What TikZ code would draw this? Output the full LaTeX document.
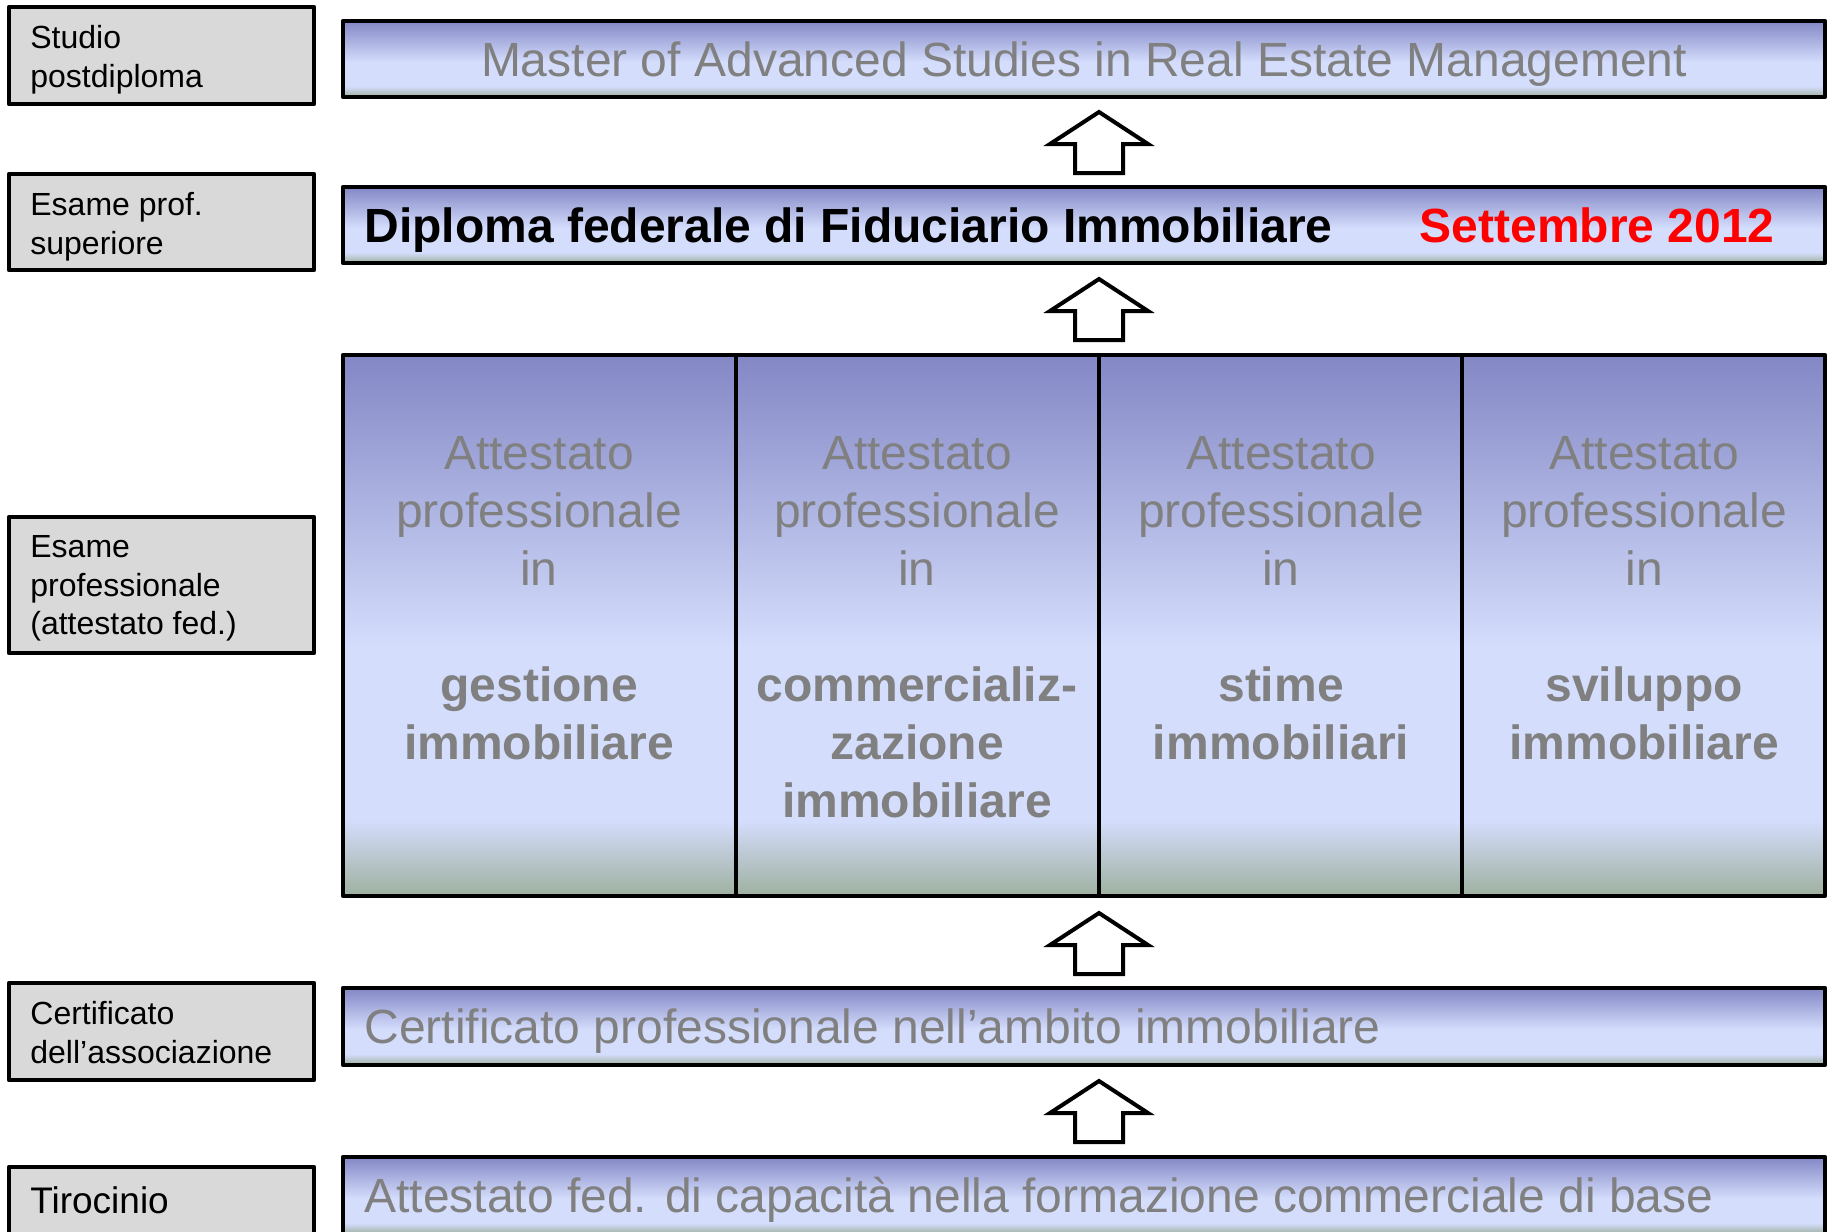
\documentclass[tikz,border=0pt]{standalone}
\usepackage{fontspec}
\setmainfont{Liberation Sans}
\usetikzlibrary{calc,fit}
\definecolor{shtop}{HTML}{8387C5}
\definecolor{shlight}{HTML}{D4DDFC}
\definecolor{shbot}{HTML}{9EB09F}
\definecolor{txtgray}{HTML}{808080}
\definecolor{lblfill}{HTML}{D9D9D9}
\definecolor{datered}{HTML}{FF0000}
\pgfdeclareverticalshading{barshade}{100bp}{color(0bp)=(shbot); color(25bp)=(shbot); color(32bp)=(shlight); color(48bp)=(shlight); color(75bp)=(shtop); color(100bp)=(shtop)}
\begin{document}
\begin{tikzpicture}[x=0.5pt,y=-0.5pt,
  lblbox/.style={draw=black, line width=2.4pt, line join=round, fill=lblfill, inner sep=0pt},
  barbox/.style={draw=black, line width=2.4pt, line join=round, shading=barshade, inner sep=0pt},
  lbltext/.style={anchor=north west, inner sep=0pt, align=left, font=\fontsize{16}{19.3}\selectfont},
  bartext/.style={inner sep=0pt, text=txtgray, font=\fontsize{24}{29}\selectfont},
  coltext/.style={anchor=north, inner sep=0pt, align=center, text=txtgray, font=\fontsize{24}{29}\selectfont},
  blockarrow/.style={draw=black, line width=2pt, fill=white, line join=miter}]
\clip (0,0) rectangle (1834,1231);
% left label boxes
\node[lblbox, fit={(9,7) (314,104)}] (l1) {};
\node[lblbox, fit={(9,174) (314,270)}] (l2) {};
\node[lblbox, fit={(9,517) (314,653)}] (l3) {};
\node[lblbox, fit={(9,983) (314,1080)}] (l4) {};
\node[lblbox, fit={(9,1167) (314,1265)}] (l5) {};
\node[lbltext] (t1) at (30,25) {Studio\\postdiploma};
\node[lbltext] (t2) at (30,192) {Esame prof.\\superiore};
\node[lbltext] (t3) at (30,535) {Esame\\professionale\\(attestato fed.)};
\node[lbltext] (t4) at (30,1001) {Certificato\\dell’associazione};
\node[anchor=base west, inner sep=0pt, font=\fontsize{18.5}{22}\selectfont] (t5) at (30,1213) {Tirocinio};
% right bars
\node[barbox, fit={(343,21) (1825,97)}] (b1) {};
\node[barbox, fit={(343,187) (1825,263)}] (b2) {};
\node[barbox, fit={(343,355) (736,896)}] (c1) {};
\node[barbox, fit={(736,355) (1099,896)}] (c2) {};
\node[barbox, fit={(1099,355) (1462,896)}] (c3) {};
\node[barbox, fit={(1462,355) (1825,896)}] (c4) {};
\node[barbox, fit={(343,988) (1825,1065)}] (b4) {};
\node[barbox, fit={(343,1157) (1825,1234)}] (b5) {};
% bar texts
\node[bartext, anchor=base] (m1) at (1084,76) {Master of Advanced Studies in Real Estate Management};
\node[bartext, anchor=base west, text=black, font=\fontsize{24}{29}\selectfont\bfseries] (m2) at (364,242) {Diploma federale di Fiduciario Immobiliare};
\node[bartext, anchor=base east, text=datered, font=\fontsize{24}{29}\selectfont\bfseries] (m3) at (1775,242) {Settembre 2012};
\node[bartext, anchor=base west] (m4) at (364,1043) {Certificato professionale nell’ambito immobiliare};
\node[bartext, anchor=base west] (m5) at (364,1212) {Attestato fed. di capacità nella formazione commerciale di base};
% column texts
\node[coltext] (k1) at (539,436) {Attestato\\professionale\\in\\\mbox{}\\\textbf{gestione}\\\textbf{immobiliare}};
\node[coltext] (k2) at (917,436) {Attestato\\professionale\\in\\\mbox{}\\\textbf{commercializ-}\\\textbf{zazione}\\\textbf{immobiliare}};
\node[coltext] (k3) at (1281,436) {Attestato\\professionale\\in\\\mbox{}\\\textbf{stime}\\\textbf{immobiliari}};
\node[coltext] (k4) at (1644,436) {Attestato\\professionale\\in\\\mbox{}\\\textbf{sviluppo}\\\textbf{immobiliare}};
% block arrows
\coordinate (a1) at (1099,173);
\coordinate (a2) at (1099,340);
\coordinate (a3) at (1099,974);
\coordinate (a4) at (1099,1142);
\foreach \a in {a1,a2,a3,a4}{
  \draw[blockarrow] (\a) ++(-24,0) -- ++(0,-29) -- ++(-25,0) -- ++(49,-32) -- ++(49,32) -- ++(-25,0) -- ++(0,29) -- cycle;
}
\end{tikzpicture}
\end{document}
